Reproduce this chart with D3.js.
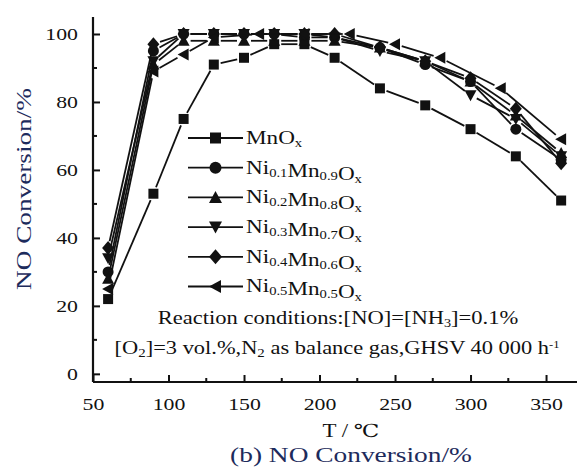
<!DOCTYPE html>
<html>
<head>
<meta charset="utf-8">
<script src="https://cdn.jsdelivr.net/npm/d3@7/dist/d3.min.js"></script>
<style>
  body { margin: 0; background: #fff; }
  svg text { font-family: "Liberation Serif", "Times New Roman", "DejaVu Serif", serif !important; }
</style>
</head>
<body>
<div id="chart"></div>
<script>
// data
var temps = [60, 90, 110, 130, 150, 170, 190, 210, 240, 270, 300, 330, 360];
var tempsNi05 = [60, 90, 110, 130, 160, 190, 220, 250, 280, 320, 360];

var mnox  = [22, 53, 75, 91, 93, 97, 97, 93, 84, 79, 72, 64, 51];
var ni01  = [30, 95, 100, 100, 100, 100, 99, 99, 96, 91, 86, 72, 63];
var ni02  = [28, 91, 98, 98, 98, 98, 98, 98, 96, 92, 86, 76, 65];
var ni03  = [34, 92, 100, 100, 100, 100, 100, 99, 95, 92, 82, 75, 64];
var ni04  = [37, 97, 100, 100, 100, 100, 100, 100, 96, 92, 87, 78, 62];
var ni05  = [25, 89, 94, 99, 100, 100, 100, 97, 93, 84, 69];

// legend names: [text, subscript] pairs
var names = [
  [["MnO", "x"]],
  [["Ni", "0.1"], ["Mn", "0.9"], ["O", "x"]],
  [["Ni", "0.2"], ["Mn", "0.8"], ["O", "x"]],
  [["Ni", "0.3"], ["Mn", "0.7"], ["O", "x"]],
  [["Ni", "0.4"], ["Mn", "0.6"], ["O", "x"]],
  [["Ni", "0.5"], ["Mn", "0.5"], ["O", "x"]]
];
var shapes = ["square", "circle", "up", "down", "diamond", "left"];

var xTicks = [50, 100, 150, 200, 250, 300, 350];
var yTicks = [0, 20, 40, 60, 80, 100];

var series = [
  {x: temps, y: mnox},
  {x: temps, y: ni01},
  {x: temps, y: ni02},
  {x: temps, y: ni03},
  {x: temps, y: ni04},
  {x: tempsNi05, y: ni05}
];

var W = 577, H = 470;
var svg = d3.select("#chart").append("svg")
  .attr("width", W).attr("height", H);

var x = d3.scaleLinear().domain([50, 370.5]).range([93, 577]);
var y = d3.scaleLinear().domain([-2.4, 105]).range([382, 17]);

var ink = "#111";
var blue = "#1d2b5c";

// the source figure is stretched sideways, so text gets a horizontal scale
function stretch(node, ax, ay, sx) {
  d3.select(node).attr("transform",
    "translate(" + ax + "," + ay + ") scale(" + sx + ",1) translate(" + (-ax) + "," + (-ay) + ")");
}
function fitWidth(node, ax, ay, target) {
  var w = node.getBBox().width;
  stretch(node, ax, ay, target / w);
}

// axes (ticks point inward)
var gx = svg.append("g")
  .attr("transform", "translate(0,382)")
  .call(d3.axisBottom(x).tickValues(xTicks).tickSize(-7).tickPadding(16).tickFormat(d3.format("d")))
  .call(g => g.select(".domain").attr("stroke", ink).attr("stroke-width", 2.2).attr("d", "M93,0H577"))
  .call(g => g.selectAll(".tick line").attr("stroke", ink).attr("stroke-width", 2))
  .call(g => g.selectAll(".tick text").attr("fill", ink).style("font-size", "17.5px"));

svg.append("g")
  .selectAll("line")
  .data(d3.range(75, 370, 50))
  .join("line")
  .attr("x1", d => x(d)).attr("x2", d => x(d))
  .attr("y1", 382).attr("y2", 378)
  .attr("stroke", ink).attr("stroke-width", 2);

var gy = svg.append("g")
  .attr("transform", "translate(93,0)")
  .call(d3.axisLeft(y).tickValues(yTicks).tickSize(-7).tickPadding(15))
  .call(g => g.select(".domain").attr("stroke", ink).attr("stroke-width", 2.2).attr("d", "M0,382V17"))
  .call(g => g.selectAll(".tick line").attr("stroke", ink).attr("stroke-width", 2))
  .call(g => g.selectAll(".tick text").attr("fill", ink).style("font-size", "17.5px"));

svg.append("g")
  .selectAll("line")
  .data(d3.range(10, 101, 20))
  .join("line")
  .attr("x1", 93).attr("x2", 97)
  .attr("y1", d => y(d)).attr("y2", d => y(d))
  .attr("stroke", ink).attr("stroke-width", 2);

// tick label stretch, based on "100" being ~33px wide
var w100 = gy.selectAll(".tick text").filter(d => d == 100).node().getBBox().width;
var tickSx = 33 / w100;
gx.selectAll(".tick text").each(function () { stretch(this, 0, 0, tickSx); });
gy.selectAll(".tick text").each(function () { stretch(this, -15, 0, tickSx); });

// marker paths
function marker(shape, s) {
  var r = s / 2;
  if (shape == "square") return "M" + (-r) + "," + (-r) + "h" + s + "v" + s + "h" + (-s) + "Z";
  if (shape == "circle") return d3.symbol(d3.symbolCircle, Math.PI * (r + 0.5) * (r + 0.5))();
  if (shape == "up") return "M0," + (-r - 1) + "L" + (r + 1) + "," + (r) + "L" + (-r - 1) + "," + (r) + "Z";
  if (shape == "down") return "M0," + (r + 1) + "L" + (r + 1) + "," + (-r) + "L" + (-r - 1) + "," + (-r) + "Z";
  if (shape == "diamond") return "M0," + (-r - 2) + "L" + (r + 1) + ",0L0," + (r + 2) + "L" + (-r - 1) + ",0Z";
  if (shape == "left") return "M" + (-r - 1) + ",0L" + (r) + "," + (-r - 1) + "L" + (r) + "," + (r + 1) + "Z";
}

var msize = 10, gap = 7;

// lines drawn as segments with a small gap round each marker
series.forEach(function (s, i) {
  var pts = s.x.map((t, j) => [x(t), y(s.y[j])]);
  var segs = d3.pairs(pts).map(function (p) {
    var dx = p[1][0] - p[0][0], dy = p[1][1] - p[0][1];
    var len = Math.sqrt(dx * dx + dy * dy);
    var ux = dx / len, uy = dy / len;
    if (len <= 2 * gap) return null;
    return [p[0][0] + ux * gap, p[0][1] + uy * gap, p[1][0] - ux * gap, p[1][1] - uy * gap];
  }).filter(d => d);
  svg.append("g")
    .selectAll("line")
    .data(segs)
    .join("line")
    .attr("x1", d => d[0]).attr("y1", d => d[1])
    .attr("x2", d => d[2]).attr("y2", d => d[3])
    .attr("stroke", ink)
    .attr("stroke-width", 1.8);
  svg.append("g")
    .selectAll("path")
    .data(pts)
    .join("path")
    .attr("transform", d => "translate(" + d[0] + "," + d[1] + ")")
    .attr("d", marker(shapes[i], msize))
    .attr("fill", ink);
});

// legend
var legend = svg.append("g");
var legSx = null;
names.forEach(function (nm, i) {
  var ly = 138 + i * 29.7;
  legend.append("line")
    .attr("x1", 188).attr("x2", 243)
    .attr("y1", ly).attr("y2", ly)
    .attr("stroke", ink).attr("stroke-width", 1.8);
  legend.append("path")
    .attr("transform", "translate(215.5," + ly + ")")
    .attr("d", marker(shapes[i], msize + 1))
    .attr("fill", ink);
  var t = legend.append("text")
    .attr("x", 246).attr("y", ly + 6)
    .attr("fill", ink)
    .style("font-size", "19px");
  nm.forEach(function (part) {
    t.append("tspan").text(part[0]);
    t.append("tspan").text(part[1]).style("font-size", "12px").attr("dy", 3);
    t.append("tspan").text("").attr("dy", -3);
  });
  // "Ni0.1Mn0.9Ox" is ~116px wide in the figure
  if (i == 1) legSx = 116 / t.node().getBBox().width;
});
legend.selectAll("text").each(function () {
  stretch(this, 246, 0, legSx);
});

// condition notes
var note1 = svg.append("text")
  .attr("x", 338).attr("y", 324)
  .attr("text-anchor", "middle")
  .attr("fill", ink)
  .style("font-size", "19px");
note1.append("tspan").text("Reaction conditions:[NO]=[NH");
note1.append("tspan").text("3").style("font-size", "12px").attr("dy", 3);
note1.append("tspan").text("]=0.1%").attr("dy", -3);
fitWidth(note1.node(), 338, 324, 361);

var note2 = svg.append("text")
  .attr("x", 337).attr("y", 354)
  .attr("text-anchor", "middle")
  .attr("fill", ink)
  .style("font-size", "18px");
note2.append("tspan").text("[O");
note2.append("tspan").text("2").style("font-size", "12px").attr("dy", 3);
note2.append("tspan").text("]=3 vol.%,N").attr("dy", -3);
note2.append("tspan").text("2").style("font-size", "12px").attr("dy", 3);
note2.append("tspan").text(" as balance gas,GHSV 40 000 h").attr("dy", -3);
note2.append("tspan").text("-1").style("font-size", "10px").attr("dy", -6);
fitWidth(note2.node(), 337, 354, 445);

// axis titles
var yTitle = svg.append("text")
  .attr("x", 0).attr("y", 0)
  .attr("text-anchor", "middle")
  .attr("fill", blue)
  .style("font-size", "21px")
  .text("NO Conversion/%");
var yw = yTitle.node().getBBox().width;
yTitle.attr("transform", "translate(31,189) rotate(-90) scale(" + (202 / yw) + ",1)");

var xTitle = svg.append("text")
  .attr("x", 351).attr("y", 437)
  .attr("text-anchor", "middle")
  .attr("fill", ink)
  .style("font-size", "18px")
  .text("T  /  \u2103");
fitWidth(xTitle.node(), 351, 437, 57);

var caption = svg.append("text")
  .attr("x", 351).attr("y", 462)
  .attr("text-anchor", "middle")
  .attr("fill", blue)
  .style("font-size", "21px")
  .text("(b) NO Conversion/%");
fitWidth(caption.node(), 351, 462, 242);
</script>
</body>
</html>
